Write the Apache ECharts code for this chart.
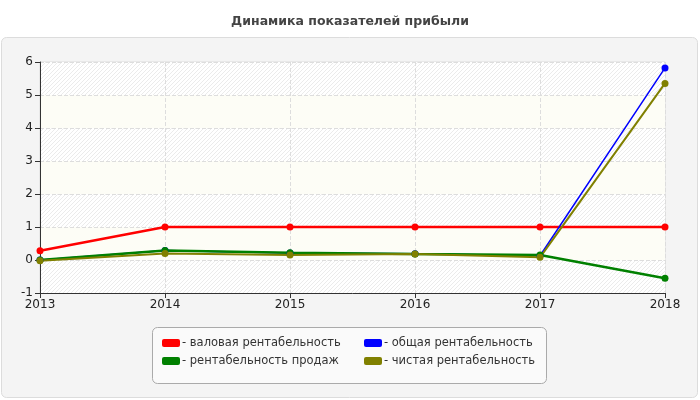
<!DOCTYPE html>
<html>
<head>
<meta charset="utf-8">
<script src="https://cdn.jsdelivr.net/npm/echarts@6/dist/echarts.min.js"></script>
<style>
  html, body { margin: 0; padding: 0; background: #fff; }
  #main { width: 700px; height: 400px; }
</style>
</head>
<body>
<div id="main"></div>
<script>
var years = ["2013", "2014", "2015", "2016", "2017", "2018"];
var seriesNames = ["валовая рентабельность", "общая рентабельность", "рентабельность продаж", "чистая рентабельность"];
var valovaya = [0.28, 1, 1, 1, 1, 1];
var obshaya = [0, 0.29, 0.21, 0.19, 0.13, 5.82];
var prodazh = [0, 0.29, 0.22, 0.18, 0.15, -0.55];
var chistaya = [-0.02, 0.2, 0.15, 0.18, 0.08, 5.35];
var colors = ["#ff0000", "#0000ff", "#008000", "#808000"];
var lineWidths = [2.5, 1.5, 2.5, 2];
var allValues = [valovaya, obshaya, prodazh, chistaya];

// штриховка для полос фона
var hatch = document.createElement("canvas");
hatch.width = 4;
hatch.height = 4;
var ctx = hatch.getContext("2d");
ctx.fillStyle = "#ffffff";
ctx.fillRect(0, 0, 4, 4);
ctx.strokeStyle = "#ebebeb";
ctx.lineWidth = 1;
ctx.beginPath();
ctx.moveTo(0, 4); ctx.lineTo(4, 0);
ctx.moveTo(-1, 1); ctx.lineTo(1, -1);
ctx.moveTo(3, 5); ctx.lineTo(5, 3);
ctx.stroke();

var chart = echarts.init(document.getElementById("main"));

var series = [];
for (var i = 0; i < seriesNames.length; i++) {
  series.push({
    name: seriesNames[i],
    type: "line",
    data: allValues[i],
    symbol: "circle",
    symbolSize: 7,
    color: colors[i],
    lineStyle: { width: lineWidths[i], color: colors[i] },
    itemStyle: { color: colors[i] },
    z: 2
  });
}

// две колонки легенды
function makeLegend(names, left) {
  return {
    data: names,
    orient: "vertical",
    left: left, top: 337,
    itemGap: 6,
    itemWidth: 18, itemHeight: 8,
    icon: "roundRect",
    padding: 0,
    formatter: function (name) { return "- " + name; },
    textStyle: { fontSize: 11.5, color: "#333", padding: [0, 0, 0, -3] }
  };
}

var option = {
  backgroundColor: "#ffffff",
  animation: false,
  textStyle: { fontFamily: "DejaVu Sans" },
  title: {
    text: "Динамика показателей прибыли",
    left: "center",
    top: 10,
    textStyle: { fontSize: 12.5, fontWeight: "bold", color: "#444", fontFamily: "DejaVu Sans" }
  },
  graphic: [{
    type: "rect",
    shape: { x: 1.5, y: 37.5, width: 696, height: 360, r: 5 },
    style: { fill: "#f4f4f4", stroke: "#dcdcdc", lineWidth: 1 },
    z: -10
  }, {
    type: "rect",
    shape: { x: 152.5, y: 327.5, width: 394, height: 56, r: 5 },
    style: { fill: "#fafafa", stroke: "#aaaaaa", lineWidth: 1 },
    z: -5
  }],
  grid: {
    left: 40, right: 35, top: 62, bottom: 107,
    show: true, borderColor: "#dddddd", borderWidth: 1
  },
  legend: [
    makeLegend([seriesNames[0], seriesNames[2]], 162),
    makeLegend([seriesNames[1], seriesNames[3]], 364)
  ],
  xAxis: {
    type: "category",
    data: years,
    boundaryGap: false,
    axisLine: { onZero: false, lineStyle: { color: "#333", width: 1 } },
    axisTick: { show: true, length: 5, lineStyle: { color: "#333" } },
    axisLabel: { color: "#222", fontSize: 12, margin: 6 },
    splitLine: { show: true, lineStyle: { color: "#dddddd", type: "dashed" } }
  },
  yAxis: {
    type: "value",
    min: -1, max: 6, interval: 1,
    axisLine: { show: true, lineStyle: { color: "#333", width: 1 } },
    axisTick: { show: true, length: 5, lineStyle: { color: "#333" } },
    axisLabel: { color: "#222", fontSize: 12, margin: 7 },
    splitLine: { show: true, lineStyle: { color: "#dddddd", type: "dashed" } },
    splitArea: {
      show: true,
      areaStyle: { color: [{ image: hatch, repeat: "repeat" }, "#fdfdf6"] }
    }
  },
  series: series
};

chart.setOption(option);
</script>
</body>
</html>
